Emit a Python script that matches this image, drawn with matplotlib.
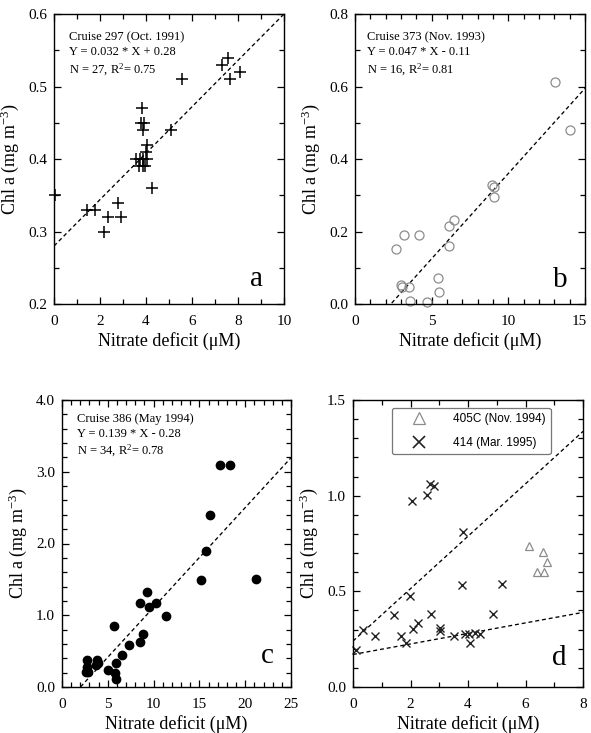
import matplotlib
matplotlib.use('Agg')
import matplotlib.pyplot as plt
import matplotlib.transforms as mtransforms
from matplotlib.ticker import MultipleLocator, FormatStrFormatter
from matplotlib.lines import Line2D

plt.rcParams['font.family'] = ['Liberation Serif', 'DejaVu Serif']
plt.rcParams['mathtext.fontset'] = 'custom'
plt.rcParams['mathtext.rm'] = 'Liberation Serif'
plt.rcParams['mathtext.it'] = 'Liberation Serif:italic'

# ---------------- data ----------------
# Panel a: Cruise 297 (Oct. 1991)
a_x = [0.05, 1.45, 1.78, 2.18, 2.36, 2.79, 2.91, 3.57, 3.81, 3.78, 3.90, 3.86,
       3.71, 3.89, 4.03, 3.99, 4.03, 3.75, 3.95, 3.85, 4.25, 5.08, 5.56, 7.31,
       7.57, 7.67, 8.08]
a_y = [0.35, 0.33, 0.33, 0.30, 0.32, 0.34, 0.32, 0.40, 0.47, 0.45, 0.45, 0.44,
       0.39, 0.39, 0.42, 0.41, 0.40, 0.40, 0.39, 0.40, 0.36, 0.44, 0.51, 0.53,
       0.54, 0.51, 0.52]
a_fit = (0.032, 0.28)

# Panel b: Cruise 373 (Nov. 1993)
b_x = [2.66, 3.17, 4.15, 2.99, 3.06, 3.49, 3.58, 4.69, 5.44, 5.46, 6.14, 6.14,
       6.46, 8.95, 9.04, 9.06, 13.03, 14.02]
b_y = [0.153, 0.189, 0.189, 0.052, 0.046, 0.046, 0.009, 0.006, 0.071, 0.034,
       0.160, 0.214, 0.233, 0.327, 0.322, 0.294, 0.613, 0.480]
b_fit = (0.047, -0.11)

# Panel c: Cruise 386 (May 1994)
c_x = [2.76, 2.73, 2.58, 2.84, 3.82, 3.89, 3.75, 5.02, 5.71, 5.75, 5.93, 5.93,
       6.55, 7.35, 8.47, 8.55, 8.87, 9.27, 9.45, 10.29, 11.31, 15.2, 15.75,
       16.15, 17.2, 18.33, 21.16]
c_y = [0.37, 0.285, 0.21, 0.21, 0.377, 0.34, 0.31, 0.24, 0.846, 0.19, 0.11,
       0.34, 0.446, 0.584, 0.63, 1.17, 0.736, 1.33, 1.12, 1.17, 0.99, 1.49,
       1.90, 2.40, 3.10, 3.10, 1.51]
c_fit = (0.139, -0.28)

# Panel d: 405C (Nov. 1994) and 414 (Mar. 1995)
d405_x = [6.12, 6.40, 6.61, 6.63, 6.76]
d405_y = [0.736, 0.603, 0.707, 0.603, 0.655]
d414_x = [0.09, 0.35, 0.75, 1.41, 1.66, 1.86, 1.99, 2.08, 2.26, 2.06, 2.59,
          2.67, 2.82, 2.70, 3.01, 3.04, 3.50, 3.83, 3.79, 3.90, 4.03, 4.08,
          4.23, 4.41, 4.87, 5.17]
d414_y = [0.193, 0.297, 0.264, 0.376, 0.267, 0.228, 0.474, 0.303, 0.336, 0.971,
          1.005, 1.06, 1.05, 0.383, 0.307, 0.293, 0.264, 0.812, 0.534, 0.276,
          0.276, 0.228, 0.28, 0.276, 0.384, 0.54]
d_fit_upper = (0.137, 0.24)
d_fit_lower = (0.0275, 0.17)

a_text = ["Cruise 297 (Oct. 1991)", "Y = 0.032 * X + 0.28", "N = 27, R$^2$= 0.75"]
b_text = ["Cruise 373 (Nov. 1993)", "Y = 0.047 * X - 0.11", "N = 16, R$^2$= 0.81"]
c_text = ["Cruise 386 (May 1994)", "Y = 0.139 * X - 0.28", "N = 34, R$^2$= 0.78"]
d_labels = ["405C (Nov. 1994)", "414 (Mar. 1995)"]

XLABEL = "Nitrate deficit (\u03bcM)"
YLABEL = "Chl a (mg m$^{-3}$)"

# ---------------- figure ----------------
W, H = 591, 733
fig = plt.figure(figsize=(W / 100, H / 100), dpi=100)


def rect(left, right, top, bottom):
    return [left / W, (H - bottom) / H, (right - left) / W, (bottom - top) / H]


DASH = (0, (3.0, 2.2))


def style(ax, xlim, ylim, xmaj, xmin, ymaj, ymin, xfmt, yfmt):
    ax.set_xlim(*xlim)
    ax.set_ylim(*ylim)
    ax.xaxis.set_major_locator(MultipleLocator(xmaj))
    ax.xaxis.set_minor_locator(MultipleLocator(xmin))
    ax.yaxis.set_major_locator(MultipleLocator(ymaj))
    ax.yaxis.set_minor_locator(MultipleLocator(ymin))
    ax.xaxis.set_major_formatter(FormatStrFormatter(xfmt))
    ax.yaxis.set_major_formatter(FormatStrFormatter(yfmt))
    ax.tick_params(which='both', direction='in', top=True, right=True, width=0.9,
                   labelsize=11)
    ax.tick_params(which='major', length=5)
    ax.tick_params(which='minor', length=3.5)
    ax.tick_params(axis='x', which='both', pad=8)
    ax.tick_params(axis='y', which='both', pad=5)
    for s in ax.spines.values():
        s.set_linewidth(1.0)
    ax.set_xlabel(XLABEL, fontsize=13, labelpad=3)
    ax.set_ylabel(YLABEL, fontsize=13, labelpad=5)


def fitline(ax, fit, xlim):
    m, b = fit
    xs = [xlim[0], xlim[1]]
    ax.plot(xs, [m * v + b for v in xs], color='black', lw=0.95, ls=DASH)


def notes(ax, lines, x, y):
    for i, t in enumerate(lines):
        ax.text(x, y - i * 0.052, t, transform=ax.transAxes, fontsize=9,
                ha='left', va='top')


def letter(ax, s, x, y):
    ax.text(x, y, s, transform=ax.transAxes, fontsize=21, ha='right',
            va='baseline')


# Panel a
axa = fig.add_axes(rect(54, 284, 14, 304))
style(axa, (0, 10), (0.2, 0.6), 2, 1, 0.1, 0.05, '%d', '%.1f')
fitline(axa, a_fit, (0, 10))
axa.plot(a_x, a_y, ls='none', marker='+', color='black', ms=8, mew=1.1,
         clip_on=False)
notes(axa, a_text, 0.065, 0.94)
letter(axa, 'a', 0.91, 0.062)

# Panel b
axb = fig.add_axes(rect(355, 585, 14, 304))
style(axb, (0, 15), (0.0, 0.8), 5, 1, 0.2, 0.1, '%d', '%.1f')
fitline(axb, b_fit, (0, 15))
axb.plot(b_x, b_y, ls='none', marker='o', mfc='none', mec='#8c8c8c', ms=6.5,
         mew=0.9, clip_on=False)
notes(axb, b_text, 0.052, 0.94)
letter(axb, 'b', 0.926, 0.059)

# Panel c
axc = fig.add_axes(rect(62, 291, 400, 687))
style(axc, (0, 25), (0.0, 4.0), 5, 1, 1.0, 0.2, '%d', '%.1f')
fitline(axc, c_fit, (0, 25))
axc.plot(c_x, c_y, ls='none', marker='o', color='black', ms=6, clip_on=False)
notes(axc, c_text, 0.066, 0.955)
letter(axc, 'c', 0.926, 0.084)

# Panel d
axd = fig.add_axes(rect(353, 583, 400, 687))
style(axd, (0, 8), (0.0, 1.5), 2, 1, 0.5, 0.1, '%d', '%.1f')
fitline(axd, d_fit_upper, (0, 8))
fitline(axd, d_fit_lower, (0, 8))
axd.plot(d405_x, d405_y, ls='none', marker='^', mfc='none', mec='#8c8c8c',
         ms=6, mew=0.9, clip_on=False)
axd.plot(d414_x, d414_y, ls='none', marker='x', color='#222222', ms=6, mew=1.0,
         clip_on=False)
letter(axd, 'd', 0.93, 0.077)
handles = [Line2D([], [], ls='none', marker='^', mfc='none', mec='#8c8c8c',
                  ms=8.5, mew=0.9),
           Line2D([], [], ls='none', marker='x', color='#222222', ms=9,
                  mew=1.2)]
leg = axd.legend(handles, d_labels, loc='upper left', bbox_to_anchor=(0.17, 0.972),
                 prop={'family': 'Liberation Sans', 'size': 8.5},
                 frameon=True, fancybox=True, framealpha=1, edgecolor='#777777',
                 borderpad=0.45, handlelength=3.6, handletextpad=1.1,
                 labelspacing=1.0, borderaxespad=0)
leg.get_frame().set_linewidth(0.9)

# keep the right-most tick label of panel b inside the image
fig.canvas.draw()
for lbl in axb.get_xticklabels():
    if lbl.get_text() == '15':
        lbl.set_transform(lbl.get_transform() +
                          mtransforms.ScaledTranslation(-4 / 72, 0,
                                                        fig.dpi_scale_trans))

fig.savefig('out.png', dpi=100)
